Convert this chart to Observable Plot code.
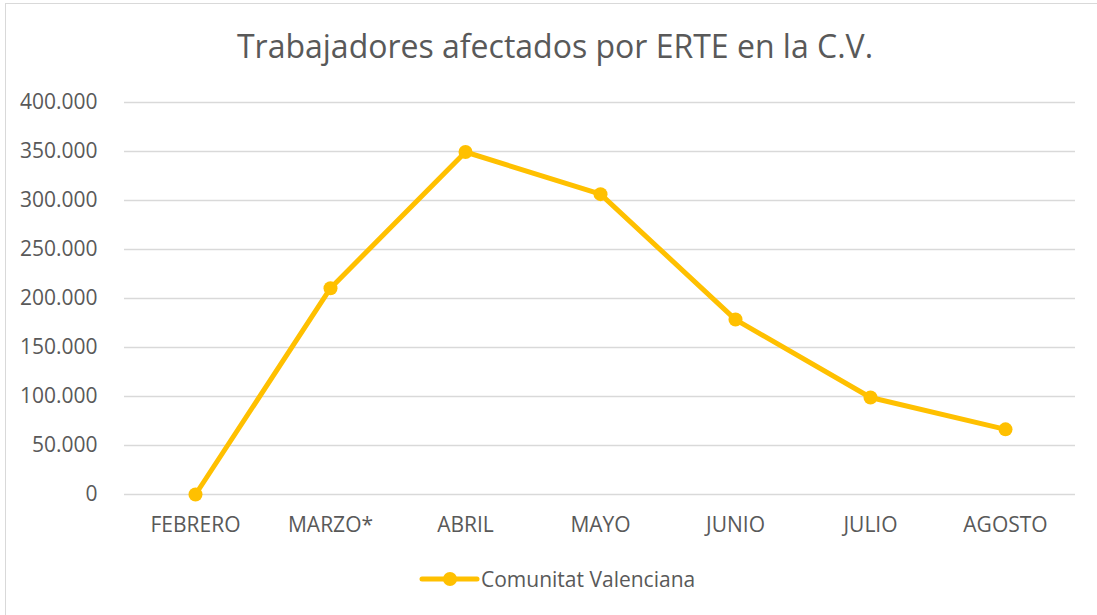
<!DOCTYPE html>
<html>
<head>
<meta charset="utf-8">
<script src="https://cdn.jsdelivr.net/npm/d3@7"></script>
<script src="https://cdn.jsdelivr.net/npm/@observablehq/plot@0.6"></script>
<style>
  html, body { margin: 0; padding: 0; background: #fff; }
  #wrap { position: relative; width: 1097px; height: 615px; overflow: hidden; background: #fff; font-family: "Open Sans", sans-serif; }
  #border { position: absolute; left: 5px; top: 3px; width: 1110px; height: 630px; border: 1.5px solid #d9d9d9; box-sizing: border-box; }
  #title { position: absolute; left: 5px; width: 1100px; top: 27px; text-align: center; font-size: 32px; color: #595959; line-height: 1.2; white-space: nowrap; }
  #chart { position: absolute; left: 0; top: 80px; }
  #legend { position: absolute; left: 0; top: 560px; }
</style>
</head>
<body>
<div id="wrap">
  <div id="border"></div>
  <div id="title">Trabajadores afectados por ERTE en la C.V.</div>
  <div id="chart"></div>
  <div id="legend"></div>
</div>
<script>
const meses = ["FEBRERO", "MARZO*", "ABRIL", "MAYO", "JUNIO", "JULIO", "AGOSTO"];
const trabajadores = [0, 210500, 349500, 306500, 178500, 99000, 66500];
const yTicks = [0, 50000, 100000, 150000, 200000, 250000, 300000, 350000, 400000];
const serie = "Comunitat Valenciana";

const color = "#FFC000";
const textColor = "#595959";
const es = d3.formatLocale({decimal: ",", thousands: ".", grouping: [3], currency: ["", " €"]});
const fmt = es.format(",d");

const data = meses.map((m, i) => ({mes: m, valor: trabajadores[i]}));

const chart = Plot.plot({
  width: 1097,
  height: 470,
  marginLeft: 124,
  marginRight: 22,
  marginTop: 22,
  marginBottom: 56,
  style: {fontFamily: "'Open Sans', sans-serif", fontSize: "21px", color: textColor, background: "transparent"},
  x: {type: "point", domain: meses, padding: 0.5, label: null},
  y: {domain: [0, 400000], label: null},
  marks: [
    Plot.ruleY(yTicks, {stroke: "#d9d9d9", strokeWidth: 1.4}),
    Plot.axisY({ticks: yTicks, tickFormat: fmt, tickSize: 0, tickPadding: 27, fontSize: 21, fill: textColor, label: null}),
    Plot.axisX({tickSize: 0, tickPadding: 23, fontSize: 21, fill: textColor, label: null}),
    Plot.line(data, {x: "mes", y: "valor", stroke: color, strokeWidth: 5, strokeLinejoin: "round", strokeLinecap: "round"}),
    Plot.dot(data, {x: "mes", y: "valor", r: 7, fill: color, stroke: "none"})
  ]
});
document.getElementById("chart").appendChild(chart);

// legend
const lg = d3.select("#legend").append("svg").attr("width", 1097).attr("height", 40);
lg.append("line").attr("x1", 422).attr("x2", 477).attr("y1", 19).attr("y2", 19)
  .attr("stroke", color).attr("stroke-width", 5).attr("stroke-linecap", "round");
lg.append("circle").attr("cx", 450).attr("cy", 19).attr("r", 7).attr("fill", color);
lg.append("text").attr("x", 481).attr("y", 19).attr("dy", "0.36em")
  .attr("font-family", "'Open Sans', sans-serif").attr("font-size", 21).attr("fill", textColor)
  .text(serie);
</script>
</body>
</html>
